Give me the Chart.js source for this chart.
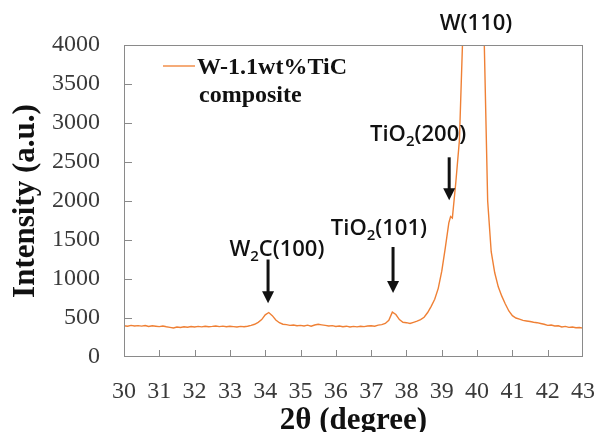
<!DOCTYPE html>
<html>
<head>
<meta charset="utf-8">
<script src="https://cdn.jsdelivr.net/npm/chart.js@4.4.0/dist/chart.umd.min.js"></script>
<style>
  html, body { margin: 0; padding: 0; background: #fff; }
  #wrap { width: 597px; height: 432px; }
</style>
</head>
<body>
<div id="wrap"><canvas id="xrd"></canvas></div>
<script>
// 2-theta angles (degree)
var twoTheta = [
  30.0, 30.1, 30.2, 30.3, 30.4, 30.5, 30.6, 30.7, 30.8, 30.9,
  31.0, 31.1, 31.2, 31.3, 31.4, 31.5, 31.6, 31.7, 31.8, 31.9,
  32.0, 32.1, 32.2, 32.3, 32.4, 32.5, 32.6, 32.7, 32.8, 32.9,
  33.0, 33.1, 33.2, 33.3, 33.4, 33.5, 33.6, 33.7, 33.8, 33.9,
  34.0, 34.1, 34.2, 34.3, 34.4, 34.5, 34.6, 34.7, 34.8, 34.9,
  35.0, 35.1, 35.2, 35.3, 35.4, 35.5, 35.6, 35.7, 35.8, 35.9,
  36.0, 36.1, 36.2, 36.3, 36.4, 36.5, 36.6, 36.7, 36.8, 36.9,
  37.0, 37.1, 37.2, 37.3, 37.4, 37.5, 37.6, 37.7, 37.8, 37.9,
  38.0, 38.1, 38.2, 38.3, 38.4, 38.5, 38.6, 38.7, 38.8, 38.9,
  39.0, 39.1, 39.2, 39.25, 39.3, 39.4, 39.5, 39.6, 39.7, 39.8, 39.9,
  40.0, 40.1, 40.2, 40.3, 40.4, 40.5, 40.6, 40.7, 40.8, 40.9,
  41.0, 41.1, 41.2, 41.3, 41.4, 41.5, 41.6, 41.7, 41.8, 41.9,
  42.0, 42.1, 42.2, 42.3, 42.4, 42.5, 42.6, 42.7, 42.8, 42.9,
  43.0
];

// intensity (a.u.), W-1.1wt%TiC composite
var intensity = [
  400, 395, 405, 398, 402, 396, 404, 392, 400, 395,
  390, 398, 388, 380, 372, 385, 378, 388, 382, 390,
  385, 392, 386, 395, 388, 392, 398, 390, 396, 388,
  394, 390, 385, 392, 388, 395, 405, 420, 445, 480,
  540, 570, 530, 475, 440, 420, 415, 405, 410, 400,
  405, 398, 408, 395, 410, 420, 412, 405, 398, 402,
  392, 398, 388, 395, 385, 392, 386, 395, 390, 398,
  400, 395, 408, 415, 430, 470, 575, 545, 480, 445,
  440, 430, 445, 460, 480, 510, 570, 650, 740, 880,
  1100, 1400, 1720, 1800, 1780, 2250, 2780, 4200, 6500, 8500, 9500,
  8500, 6200, 4100, 2000, 1350, 1080, 900, 780, 680, 590,
  530, 500, 485, 470, 462, 455, 445, 440, 430, 420,
  405, 410, 398, 400, 385, 392, 380, 385, 375, 378,
  370
];

var seriesName = ["W-1.1wt%TiC", "composite"];

// peak labels: text, subscript, rest ; anchored in data units
var peakText = ["W(110)", "TiO", "TiO", "W"];
var peakSub = ["", "2", "2", "2"];
var peakRest = ["", "(200)", "(101)", "C(100)"];
var peakLabelX = [39.97, 38.33, 37.22, 34.33];
var peakLabelY = [4270, 2850, 1640, 1370];

// arrows pointing at minor peaks
var arrowX = [39.21, 37.62, 34.08];
var arrowFrom = [2560, 1410, 1250];
var arrowTo = [2010, 820, 690];

var lineColor = "#ef8035";

function drawPeakLabel(ctx, cx, cy, main, sub, rest)
{
  var big = "600 22px 'Open Sans'";
  var small = "600 15px 'Open Sans'";
  ctx.font = big;
  var w1 = ctx.measureText(main).width;
  var w3 = ctx.measureText(rest).width;
  ctx.font = small;
  var w2 = sub ? ctx.measureText(sub).width : 0;
  var x = cx - (w1 + w2 + w3) / 2;
  ctx.textBaseline = "middle";
  ctx.textAlign = "left";
  ctx.font = big;
  ctx.fillText(main, x, cy);
  if (sub) {
    ctx.font = small;
    ctx.fillText(sub, x + w1, cy + 7);
  }
  ctx.font = big;
  ctx.fillText(rest, x + w1 + w2, cy);
}

var decorPlugin = {
  id: "decor",
  afterDraw: function(chart) {
    var ctx = chart.ctx;
    var area = chart.chartArea;
    var xs = chart.scales.x;
    var ys = chart.scales.y;
    ctx.save();

    // frame
    ctx.strokeStyle = "#8a8a8a";
    ctx.lineWidth = 1;
    ctx.strokeRect(Math.round(area.left) + 0.5, Math.round(area.top) + 0.5,
      Math.round(area.right - area.left) - 1, Math.round(area.bottom - area.top) - 1);

    // inward tick marks
    ctx.beginPath();
    for (var v = 500; v < 4000; v += 500) {
      var py = Math.round(ys.getPixelForValue(v)) + 0.5;
      ctx.moveTo(area.left, py);
      ctx.lineTo(area.left + 8, py);
    }
    for (var d = 31; d < 43; d++) {
      var px = Math.round(xs.getPixelForValue(d)) + 0.5;
      ctx.moveTo(px, area.bottom);
      ctx.lineTo(px, area.bottom - 7);
    }
    ctx.stroke();

    // arrows
    ctx.fillStyle = "#111";
    ctx.strokeStyle = "#111";
    for (var i = 0; i < arrowX.length; i++) {
      var ax = xs.getPixelForValue(arrowX[i]);
      var y0 = ys.getPixelForValue(arrowFrom[i]);
      var y1 = ys.getPixelForValue(arrowTo[i]);
      ctx.lineWidth = 3;
      ctx.beginPath();
      ctx.moveTo(ax, y0);
      ctx.lineTo(ax, y1 - 10);
      ctx.stroke();
      ctx.beginPath();
      ctx.moveTo(ax - 6, y1 - 12);
      ctx.lineTo(ax + 6, y1 - 12);
      ctx.lineTo(ax, y1);
      ctx.closePath();
      ctx.fill();
    }

    // peak labels
    for (var j = 0; j < peakText.length; j++) {
      drawPeakLabel(ctx, xs.getPixelForValue(peakLabelX[j]), ys.getPixelForValue(peakLabelY[j]),
        peakText[j], peakSub[j], peakRest[j]);
    }

    // legend
    var lx = area.left + 39;
    var ly = area.top + 21;
    ctx.strokeStyle = "#f5ab78";
    ctx.lineWidth = 2;
    ctx.beginPath();
    ctx.moveTo(lx, ly);
    ctx.lineTo(lx + 32, ly);
    ctx.stroke();
    ctx.fillStyle = "#111";
    ctx.font = "bold 24px 'Liberation Serif'";
    ctx.textAlign = "left";
    ctx.textBaseline = "middle";
    ctx.fillText(seriesName[0], lx + 34, ly + 2);
    ctx.fillText(seriesName[1], lx + 36, ly + 30);

    ctx.restore();
  }
};

var ctx = document.getElementById("xrd");

var chartCanvas = new Chart(ctx, {
  type: "line",
  data: {
    labels: twoTheta,
    datasets: [
      {
        label: seriesName.join(" "),
        data: twoTheta.map(function(t, i) { return { x: t, y: intensity[i] }; }),
        borderColor: lineColor,
        borderWidth: 1.4,
        pointRadius: 0,
        tension: 0,
        fill: false
      }]
  },
  options: {
    responsive: true,
    maintainAspectRatio: false,
    animation: false,
    layout: {
      padding: { left: 0, top: 45, right: 0, bottom: 0 }
    },
    plugins: {
      legend: { display: false },
      tooltip: { enabled: false }
    },
    scales: {
      x: {
        type: "linear",
        min: 30,
        max: 43,
        grid: { display: false, drawTicks: false },
        border: { display: false },
        ticks: {
          stepSize: 1,
          padding: 20,
          color: "#3a3a3a",
          font: { family: "'Liberation Serif'", size: 24 },
          maxRotation: 0
        },
        title: {
          display: true,
          text: "2θ (degree)",
          color: "#111",
          font: { family: "'Liberation Serif'", size: 31, weight: "bold", lineHeight: 1 },
          padding: { top: 0, bottom: -4 }
        },
        afterFit: function(scale) {
          scale.height = 75;
          scale.paddingLeft = 0;
          scale.paddingRight = 14;
        }
      },
      y: {
        min: 0,
        max: 4000,
        grid: { display: false, drawTicks: false },
        border: { display: false },
        ticks: {
          stepSize: 500,
          padding: 24,
          color: "#3a3a3a",
          font: { family: "'Liberation Serif'", size: 24 },
          callback: function(value) { return String(value); }
        },
        title: {
          display: true,
          text: "Intensity (a.u.)",
          color: "#111",
          font: { family: "'Liberation Serif'", size: 31, weight: "bold", lineHeight: 1 },
          padding: { top: 10, bottom: 0 }
        },
        afterFit: function(scale) { scale.width = 124; }
      }
    }
  },
  plugins: [decorPlugin]
});
</script>
</body>
</html>
